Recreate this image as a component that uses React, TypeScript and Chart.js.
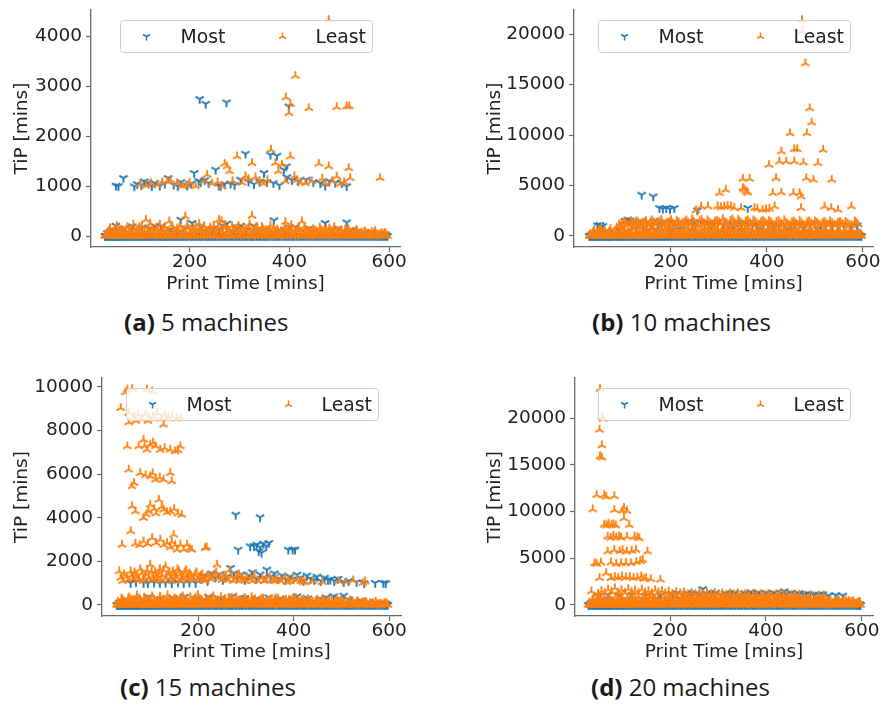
import React, { useEffect, useRef } from 'react';
import { Chart, registerables } from 'chart.js';

Chart.register(...registerables);

// ---------------- DATA ----------------
const seriesNames = ['Most', 'Least'];
const xAxisTitle = 'Print Time [mins]';
const yAxisTitle = 'TiP [mins]';
const ticksX = [200, 400, 600];
const ticksYA = [0, 1000, 2000, 3000, 4000];
const ticksYB = [0, 5000, 10000, 15000, 20000];
const ticksYC = [0, 2000, 4000, 6000, 8000, 10000];
const ticksYD = [0, 5000, 10000, 15000, 20000];
const captionTags = ['(a)', '(b)', '(c)', '(d)'];
const captionTexts = ['5 machines', '10 machines', '15 machines', '20 machines'];

// print times of jobs that waited 0 mins (TiP = 0), all panels
const zeroTimes = [30, 34, 39, 43, 48, 52, 57, 61, 66, 71, 75, 80, 86, 91, 97, 102, 108, 113, 119, 125, 131, 137, 142, 148, 154, 160, 166, 172, 178, 184, 190, 196, 203, 209, 215, 222, 228, 235, 241, 248, 254, 261, 268, 274, 281, 288, 295, 302, 309, 316, 323, 330, 337, 344, 351, 358, 366, 373, 380, 388, 395, 403, 410, 418, 425, 433, 441, 449, 456, 464, 472, 480, 488, 496, 504, 512, 520, 528, 536, 544, 552, 560, 568, 576, 584, 591, 597];
// further zero-TiP jobs under the "Most" policy
const zeroTimesMost = [32, 37, 41, 46, 50, 55, 59, 64, 69, 73, 78, 83, 89, 94, 100, 105, 111, 116, 122, 128, 134, 140, 145, 151, 157, 163, 169, 175, 181, 187, 193, 200, 206, 212, 219, 225, 232, 238, 245, 251, 258, 265, 271, 278, 285, 292, 299, 306, 313, 320, 327, 334, 341, 348, 355, 362, 370, 377, 384, 392, 399, 407, 414, 422, 429, 437, 445, 453, 460, 468, 476, 484, 492, 500, 508, 516, 524, 532, 540, 548, 556, 564, 572, 580, 588, 594];

// (a) 5 machines
const mostALow = [[35,60],[44,120],[52,207],[60,90],[70,150],[78,60],[85,194],[95,110],[104,170],[112,80],[120,140],[130,200],[142,190],[150,90],[160,130],[170,60],[182,327],[190,150],[205,260],[214,110],[222,190],[232,80],[245,140],[258,120],[266,210],[275,250],[288,90],[296,170],[303,200],[315,120],[329,200],[340,90],[352,140],[369,314],[380,120],[392,80],[400,170],[412,180],[425,100],[440,150],[456,80],[472,260],[485,110],[498,150],[515,274],[522,120],[535,90],[550,60],[565,80],[580,40],[593,30]];
const mostAHigh = [[52,1008],[57,1000],[67,1162],[89,995],[95,1040],[103,1020],[109,1095],[116,1070],[124,1000],[130,1060],[140,1010],[150,1050],[157,1162],[168,1030],[176,1000],[182,1080],[195,1010],[203,1050],[209,1262],[218,1100],[222,1080],[230,1120],[238,1060],[252,1329],[258,1010],[262,1000],[270,1040],[282,1050],[290,1020],[302,1130],[312,1650],[318,1090],[329,1040],[340,1090],[349,1262],[355,1080],[362,1630],[368,1060],[375,1610],[380,1020],[389,1329],[394,1396],[395,1180],[405,1120],[418,1100],[434,1130],[448,1080],[462,1060],[472,1010],[480,1100],[492,1070],[505,1060],[515,1000],[220,2745],[232,2651],[274,2678],[399,2598]];
const leastALow = [[33,50],[38,100],[45,80],[50,150],[56,60],[62,120],[68,90],[75,180],[82,70],[88,140],[96,100],[104,200],[112,327],[118,120],[126,90],[133,170],[140,230],[147,110],[153,80],[159,294],[166,140],[173,100],[180,200],[186,120],[191,394],[198,150],[206,90],[212,180],[219,247],[226,130],[234,100],[241,170],[248,210],[255,120],[259,327],[264,300],[270,160],[278,110],[285,200],[292,140],[300,90],[307,170],[314,130],[320,230],[325,407],[331,150],[338,100],[345,180],[352,120],[360,90],[368,170],[375,130],[383,100],[392,280],[398,150],[405,110],[412,90],[419,170],[425,294],[432,120],[440,100],[448,140],[456,80],[464,120],[472,90],[480,150],[488,70],[496,110],[505,80],[512,130],[520,90],[528,60],[536,100],[545,70],[555,50],[565,80],[575,40],[585,60],[594,30]];
const leastABand = [[36,70],[47,40],[58,110],[65,50],[78,90],[91,40],[100,130],[109,60],[122,100],[137,50],[144,120],[157,70],[169,40],[177,110],[188,60],[201,90],[210,40],[224,120],[231,60],[238,90],[251,50],[262,110],[273,70],[282,40],[290,120],[303,60],[311,90],[323,50],[335,110],[342,70],[350,40],[358,120],[365,60],[372,90],[380,50],[389,110],[401,70],[409,40],[416,100],[429,60],[436,90],[444,40],[452,110],[460,60],[468,90],[476,40],[484,100],[492,60],[500,80],[508,40],[516,90],[524,50],[532,80],[540,40],[550,70],[560,40],[570,60],[580,30],[590,50]];
const leastAFill = [[31,20],[40,160],[49,30],[54,200],[63,40],[72,120],[80,20],[87,230],[93,60],[99,180],[106,30],[115,90],[121,250],[128,40],[135,110],[139,20],[150,180],[156,40],[163,210],[168,20],[175,150],[183,30],[189,90],[195,230],[203,40],[208,140],[216,20],[221,100],[229,200],[236,30],[243,120],[250,20],[257,180],[266,50],[271,220],[279,30],[287,140],[294,20],[298,200],[306,40],[313,90],[318,160],[326,20],[334,190],[340,40],[347,130],[355,20],[362,210],[370,40],[377,100],[385,20],[391,160],[397,40],[404,220],[411,20],[418,140],[423,40],[430,190],[438,20],[446,100],[453,40],[461,170],[469,20],[474,130],[482,40],[490,180],[498,20],[503,110],[511,40],[518,150],[526,20],[534,120],[543,30],[552,90],[562,20],[572,100],[582,20],[592,60]];
const leastAHigh = [[100,1040],[112,1010],[122,1060],[135,1030],[145,1080],[155,1100],[162,1120],[175,1060],[185,1000],[192,1020],[200,1070],[212,1000],[228,1100],[235,1229],[245,1050],[256,1080],[265,1000],[270,1450],[275,1396],[280,1300],[286,1100],[295,1596],[305,1070],[312,1200],[318,1150],[325,1462],[332,1180],[340,1100],[348,1050],[356,1120],[363,1730],[372,1462],[378,1300],[385,1430],[392,1100],[402,1596],[410,1200],[415,1120],[422,1080],[432,1060],[445,1100],[459,1450],[466,1150],[472,1050],[479,1396],[486,1100],[495,1195],[502,1050],[510,1080],[519,1362],[522,1162],[582,1162],[393,2778],[399,2464],[402,2644],[412,3212],[439,2564],[479,4334],[495,2584],[515,2600],[520,2600]];

// (b) 10 machines
const mostBLow = [[35,150],[45,300],[55,500],[62,200],[72,400],[80,100],[90,600],[98,250],[108,450],[118,150],[128,700],[138,300],[148,500],[158,200],[168,650],[178,350],[188,150],[198,550],[210,300],[220,700],[232,200],[244,500],[255,350],[266,150],[278,600],[290,300],[302,450],[314,200],[326,650],[338,300],[350,500],[362,150],[374,400],[386,700],[398,250],[410,550],[422,300],[434,150],[446,600],[458,350],[470,200],[482,500],[494,300],[506,650],[518,200],[530,450],[542,300],[555,150],[568,350],[580,200],[592,100]];
const mostBHigh = [[47,1054],[52,1100],[58,1000],[110,1614],[104,1500],[115,1550],[120,1400],[128,1300],[135,1450],[142,1250],[150,1350],[158,1200],[165,1500],[172,1300],[180,1150],[188,1400],[196,1250],[205,1350],[212,1150],[220,1300],[228,1200],[236,1400],[244,1100],[252,1250],[262,1350],[270,1150],[280,1300],[290,1200],[298,1400],[308,1100],[318,1250],[328,1150],[338,1300],[348,1100],[360,1200],[370,1050],[380,1150],[392,1250],[402,1100],[412,1200],[425,1050],[436,1150],[448,1250],[458,1100],[468,1200],[478,1050],[490,1150],[500,1250],[512,1100],[524,1285],[536,1150],[548,1050],[560,1100],[575,1000],[588,1050],[139,4086],[163,3920],[176,2770],[183,2700],[190,2770],[198,2650],[207,2770],[255,2540],[360,2770]];
const leastBLow = [[32,200],[38,400],[44,150],[50,600],[56,300],[62,500],[68,200],[74,700],[80,350],[86,150],[92,550],[98,800],[104,300],[110,450],[116,200],[122,650],[128,350],[134,900],[140,250],[146,500],[152,150],[158,700],[164,400],[170,250],[176,600],[182,350],[188,800],[194,200],[200,500],[207,300],[214,700],[221,150],[228,450],[235,850],[242,300],[249,600],[256,200],[263,500],[270,350],[277,750],[284,250],[291,550],[298,150],[305,450],[312,800],[319,300],[326,600],[333,200],[340,500],[347,350],[354,750],[361,250],[368,550],[375,150],[382,450],[389,700],[396,300],[403,500],[410,200],[417,650],[424,350],[431,150],[438,550],[445,300],[452,700],[459,200],[466,450],[473,300],[480,600],[487,150],[494,400],[501,250],[508,550],[515,200],[522,450],[530,300],[538,150],[546,350],[554,200],[562,400],[570,150],[578,300],[586,100],[594,200]];
const leastBBand = [[35,100],[47,250],[59,150],[71,350],[83,100],[95,250],[107,150],[119,350],[131,100],[143,250],[155,150],[167,350],[179,100],[191,250],[203,150],[211,350],[218,100],[225,250],[232,150],[239,350],[246,100],[253,250],[260,150],[267,350],[274,100],[281,250],[288,150],[295,350],[302,100],[309,250],[316,150],[323,350],[330,100],[337,250],[344,150],[351,350],[358,100],[365,250],[372,150],[379,350],[386,100],[393,250],[400,150],[407,350],[414,100],[421,250],[428,150],[435,350],[442,100],[449,250],[456,150],[463,350],[470,100],[477,250],[484,150],[491,350],[498,100],[505,250],[512,150],[519,350],[526,100],[534,250],[542,150],[550,300],[558,100],[566,250],[574,150],[582,200],[590,100],[596,150]];
const leastBFill = [[31,50],[40,600],[49,100],[54,750],[63,150],[72,450],[80,50],[87,850],[93,250],[99,650],[106,100],[115,350],[121,900],[128,150],[135,450],[139,50],[150,650],[156,150],[163,800],[168,50],[175,550],[183,100],[189,350],[195,850],[203,150],[208,500],[216,50],[221,400],[229,750],[236,100],[243,450],[250,50],[257,650],[266,200],[271,800],[279,100],[287,500],[294,50],[298,750],[306,150],[313,350],[318,600],[326,50],[334,700],[340,150],[347,450],[355,50],[362,800],[370,150],[377,400],[385,50],[391,600],[397,150],[404,800],[411,50],[418,500],[423,150],[430,700],[438,50],[446,400],[453,150],[461,650],[469,50],[474,500],[482,150],[490,700],[498,50],[503,400],[511,150],[518,550],[526,50],[534,450],[543,100],[552,350],[562,50],[572,400],[582,50],[592,250]];
const leastBMid = [[96,1050],[104,1400],[112,1100],[120,1300],[128,1500],[136,1150],[144,1350],[152,1050],[160,1550],[168,1200],[176,1450],[184,1050],[192,1300],[200,1600],[208,1100],[216,1350],[224,1250],[232,1550],[240,1100],[248,1400],[256,1050],[264,1600],[272,1150],[280,1350],[288,1100],[296,1500],[304,1200],[312,1400],[320,1050],[328,1650],[336,1150],[344,1400],[352,1100],[360,1550],[368,1150],[376,1400],[384,1050],[392,1500],[400,1150],[408,1350],[416,1050],[424,1500],[432,1100],[440,1300],[448,1050],[456,1450],[464,1100],[472,1300],[480,1050],[488,1450],[496,1100],[504,1300],[512,1050],[520,1400],[528,1100],[536,1250],[544,1050],[552,1400],[560,1100],[568,1250],[576,1050],[586,1300]];
const leastBHigh = [[92,1150],[100,1300],[108,1200],[116,1450],[124,1100],[132,1350],[140,1250],[148,1500],[156,1150],[164,1400],[172,1250],[180,1600],[188,1150],[196,1350],[204,1250],[212,1500],[220,1150],[228,1400],[236,1300],[244,1650],[252,1200],[260,1450],[268,1300],[276,1550],[284,1200],[292,1450],[300,1350],[308,1700],[316,1250],[324,1500],[332,1350],[340,1600],[348,1200],[356,1450],[364,1300],[372,1550],[380,1200],[388,1400],[396,1300],[404,1500],[412,1150],[420,1400],[428,1250],[436,1550],[444,1150],[452,1350],[460,1250],[468,1500],[476,1100],[484,1350],[492,1250],[500,1450],[508,1150],[516,1300],[524,1200],[532,1450],[540,1100],[548,1300],[556,1200],[564,1400],[572,1100],[583,1450],[590,1150],[252,2540],[263,2930],[277,2930],[297,2930],[304,2850],[311,2930],[318,3000],[325,2930],[332,2800],[346,2770],[374,2770],[380,2700],[391,2600],[398,2650],[405,2700],[416,2930],[471,2770],[520,2930],[534,2770],[548,2600],[576,2930],[301,4250],[314,4580],[350,5670],[350,4750],[357,4415],[364,5670],[353,4600],[360,4300],[404,7050],[412,4250],[419,5730],[426,7380],[430,4320],[430,8370],[440,7380],[448,10180],[455,4250],[457,8600],[457,7380],[463,8600],[468,4250],[471,3920],[473,21385],[476,7280],[474,20300],[480,17100],[482,5730],[483,10180],[489,12650],[493,11240],[497,5570],[506,7210],[517,8530],[535,5570]];

// (c) 15 machines
const mostCLow = [[35,120],[48,250],[60,100],[72,300],[85,180],[98,350],[110,150],[122,280],[135,120],[148,320],[160,200],[172,380],[185,150],[198,300],[210,200],[222,380],[235,150],[248,300],[260,220],[272,400],[285,180],[298,320],[310,150],[322,280],[335,200],[348,350],[360,150],[372,300],[385,200],[397,250],[407,397],[418,180],[430,300],[442,150],[455,280],[468,350],[484,400],[495,300],[505,428],[515,250],[528,150],[540,200],[555,120],[570,100],[585,80],[594,60]];
const mostCHigh = [[59,1009],[70,1050],[86,1009],[95,1000],[108,1030],[120,1000],[132,1020],[145,1000],[158,1040],[170,1000],[182,1030],[195,1010],[205,1200],[212,1350],[220,1100],[228,1450],[236,1250],[244,1400],[252,1150],[260,1300],[268,1697],[275,1450],[282,1250],[290,1400],[298,1150],[306,1350],[314,1500],[322,1200],[330,1400],[337,1250],[344,1620],[352,1300],[360,1450],[368,1200],[376,1350],[384,1150],[392,1300],[400,1200],[407,1391],[414,1250],[421,1100],[428,1350],[436,1200],[443,1150],[449,1300],[457,1100],[465,1250],[472,1150],[477,1162],[485,1100],[493,1200],[505,1050],[515,1100],[532,1050],[548,1000],[571,1009],[588,1009],[593,1000],[279,4144],[330,4021],[284,2538],[309,2691],[317,2700],[323,2768],[330,2650],[337,2813],[343,2700],[348,2844],[327,2462],[333,2400],[389,2538],[398,2538],[403,2538]];
const leastCLow = [[32,150],[40,300],[48,100],[56,350],[64,200],[72,450],[80,150],[88,300],[96,200],[104,400],[112,150],[120,350],[128,250],[136,450],[144,150],[152,300],[160,200],[168,400],[176,150],[184,350],[192,250],[200,450],[208,150],[216,300],[224,200],[232,400],[240,150],[248,350],[256,250],[264,300],[272,150],[280,350],[288,200],[296,300],[304,150],[312,350],[320,250],[328,200],[336,300],[344,150],[352,250],[360,200],[368,300],[376,150],[384,250],[392,200],[400,300],[410,150],[420,250],[430,200],[440,150],[450,250],[460,200],[470,150],[480,200],[490,150],[500,200],[512,100],[524,150],[536,100],[548,120],[560,80],[572,100],[584,60],[595,80]];
const leastCBand = [[36,80],[44,200],[52,60],[60,250],[68,120],[76,300],[84,80],[92,200],[100,120],[108,250],[116,60],[124,200],[132,100],[140,280],[148,80],[156,200],[164,120],[172,260],[180,60],[188,200],[196,100],[204,280],[212,80],[220,200],[228,120],[236,250],[244,60],[252,200],[260,100],[268,250],[276,80],[284,200],[292,120],[300,250],[308,60],[316,200],[324,100],[332,250],[340,80],[348,200],[356,120],[364,220],[372,60],[380,180],[388,100],[396,220],[405,80],[415,180],[425,100],[435,200],[445,60],[455,160],[465,100],[475,180],[485,60],[495,140],[506,80],[518,120],[530,60],[542,100],[554,40],[566,90],[578,50],[590,60]];
const leastCFill = [[31,30],[40,240],[49,40],[54,300],[63,60],[72,180],[80,30],[87,340],[93,90],[99,270],[106,40],[115,140],[121,370],[128,60],[135,160],[139,30],[150,270],[156,60],[163,310],[168,30],[175,220],[183,40],[189,140],[195,340],[203,60],[208,210],[216,30],[221,150],[229,300],[236,40],[243,180],[250,30],[257,270],[266,80],[271,330],[279,40],[287,210],[294,30],[298,300],[306,60],[313,140],[318,240],[326,30],[334,280],[340,60],[347,190],[355,30],[362,310],[370,60],[377,150],[385,30],[391,240],[397,60],[404,330],[411,30],[418,210],[423,60],[430,280],[438,30],[446,150],[453,60],[461,250],[469,30],[474,190],[482,60],[490,270],[498,30],[503,160],[511,60],[518,220],[526,30],[534,180],[543,40],[552,140],[562,30],[572,150],[582,30],[592,90]];
const leastCMid = [[38,1250],[45,1400],[53,1150],[61,1350],[67,1500],[73,1250],[79,1650],[85,1100],[91,1400],[97,1250],[103,1550],[108,1150],[113,1350],[118,1450],[123,1100],[128,1600],[134,1250],[140,1500],[145,1100],[150,1400],[155,1250],[160,1550],[165,1100],[170,1350],[175,1600],[180,1200],[185,1350],[191,1150],[197,1500],[203,1250],[209,1400],[215,1100],[222,1350],[230,1250],[238,1500],[250,1150],[258,1300],[266,1600],[274,1100],[282,1300],[290,1250],[298,1100],[314,1100],[338,1100],[362,1100],[386,1050],[420,1050],[460,1050],[510,1050]];
const leastCHigh = [[52,9877],[62,9900],[93,9877],[104,9800],[48,9750],[38,9036],[55,8807],[55,8380],[66,8650],[74,8700],[82,8550],[90,8750],[98,8600],[106,8650],[114,8800],[122,8550],[130,8700],[138,8600],[146,8650],[155,8550],[163,8600],[128,8272],[95,8450],[70,8450],[52,7280],[76,7280],[86,7584],[93,7125],[100,7355],[111,7280],[121,7125],[130,7200],[142,7125],[152,7049],[163,7280],[158,7100],[106,7450],[88,7300],[55,6208],[62,5443],[66,5596],[79,6055],[90,5950],[100,5902],[111,5749],[120,5850],[128,5749],[142,6055],[145,5673],[105,6050],[62,4526],[69,4297],[86,3991],[92,4150],[100,4602],[108,4400],[118,4832],[124,4500],[128,4373],[135,4250],[142,4297],[150,4400],[158,4200],[166,4144],[112,4200],[96,4300],[41,2768],[59,3379],[69,2813],[78,2750],[86,2920],[95,2800],[104,3073],[112,2850],[121,2997],[128,2750],[135,2844],[142,2650],[149,3226],[156,2538],[163,2768],[170,2538],[177,2768],[182,2600],[187,2538],[215,2615],[218,2650],[145,2900],[152,2750],[35,1544],[42,1100],[50,1300],[59,1544],[64,1200],[70,1350],[76,1150],[82,1450],[88,1250],[94,1600],[100,1850],[105,1300],[110,1500],[115,1200],[120,1650],[125,1350],[132,1773],[137,1400],[142,1250],[147,1550],[152,1300],[157,1650],[162,1400],[167,1200],[172,1500],[177,1300],[182,1450],[188,1250],[194,1400],[200,1200],[206,1350],[212,1150],[218,1300],[226,1200],[234,1400],[240,1850],[246,1250],[254,1350],[262,1150],[270,1300],[278,1200],[286,1400],[294,1150],[302,1300],[310,1200],[318,1350],[326,1100],[334,1250],[342,1150],[350,1300],[358,1100],[366,1200],[374,1100],[382,1250],[390,1100],[398,1200],[407,1162],[415,1100],[425,1050],[440,1100],[494,1100],[525,1131],[550,1085],[545,1000]];

// (d) 20 machines
const mostDLow = [[35,200],[48,450],[60,150],[72,600],[85,300],[98,500],[110,200],[122,650],[135,300],[148,550],[160,200],[172,700],[185,350],[198,500],[210,250],[222,650],[235,300],[248,500],[260,200],[272,600],[285,350],[298,500],[310,200],[322,650],[335,300],[348,500],[360,200],[372,600],[385,350],[397,500],[410,200],[422,600],[435,300],[448,500],[460,200],[472,600],[485,350],[498,500],[510,200],[522,450],[535,300],[548,200],[560,350],[572,150],[585,250],[595,100]];
const mostDHigh = [[50,1000],[70,1050],[95,1000],[120,1050],[150,1000],[180,1050],[205,1150],[215,1250],[225,1100],[235,1300],[245,1150],[255,1250],[262,1100],[268,1705],[275,1250],[285,1150],[295,1300],[305,1100],[315,1250],[325,1150],[335,1300],[345,1100],[355,1250],[362,1150],[369,1350],[376,1200],[384,1300],[392,1100],[400,1250],[408,1150],[416,1300],[424,1100],[432,1250],[438,1456],[444,1150],[452,1300],[460,1100],[468,1250],[476,1150],[484,1200],[492,1100],[500,1050],[510,1100],[518,1172],[530,1000],[545,1050],[560,1000]];
const leastDLow = [[32,250],[38,500],[44,150],[50,700],[56,350],[62,600],[68,200],[74,800],[80,400],[86,200],[92,650],[98,900],[104,350],[110,550],[116,200],[122,750],[128,400],[134,900],[140,300],[146,600],[152,200],[158,800],[164,450],[170,300],[176,700],[182,400],[188,850],[194,250],[200,600],[207,350],[214,750],[221,200],[228,550],[235,850],[242,350],[249,650],[256,250],[263,550],[270,400],[277,750],[284,300],[291,600],[298,200],[305,500],[312,800],[319,350],[326,650],[333,250],[340,550],[347,400],[354,750],[361,300],[368,600],[375,200],[382,500],[389,700],[396,350],[403,550],[410,250],[417,650],[424,400],[431,200],[438,600],[445,350],[452,700],[459,250],[466,500],[473,350],[480,600],[487,200],[494,450],[501,300],[508,550],[515,250],[522,450],[530,350],[538,200],[546,400],[554,250],[562,450],[570,200],[578,350],[586,150],[594,250]];
const leastDBand = [[35,200],[47,500],[59,300],[71,650],[83,200],[95,450],[107,300],[119,600],[131,200],[143,450],[155,300],[167,650],[179,200],[191,450],[203,300],[211,600],[218,200],[225,450],[232,300],[239,650],[246,200],[253,450],[260,300],[267,600],[274,200],[281,450],[288,300],[295,650],[302,200],[309,450],[316,300],[323,600],[330,200],[337,450],[344,300],[351,650],[358,200],[365,450],[372,300],[379,600],[386,200],[393,450],[400,300],[407,650],[414,200],[421,450],[428,300],[435,600],[442,200],[449,450],[456,300],[463,650],[470,200],[477,450],[484,300],[491,600],[498,200],[505,450],[512,300],[519,600],[526,200],[534,450],[542,300],[550,550],[558,200],[566,450],[574,300],[582,400],[590,200],[596,300]];
const leastDFill = [[31,60],[40,650],[49,120],[54,800],[63,180],[72,500],[80,60],[87,880],[93,280],[99,700],[106,120],[115,400],[121,900],[128,180],[135,500],[139,60],[150,700],[156,180],[163,850],[168,60],[175,600],[183,120],[189,400],[195,880],[203,180],[208,550],[216,60],[221,450],[229,800],[236,120],[243,500],[250,60],[257,700],[266,220],[271,850],[279,120],[287,550],[294,60],[298,800],[306,180],[313,400],[318,650],[326,60],[334,750],[340,180],[347,500],[355,60],[362,850],[370,180],[377,450],[385,60],[391,650],[397,180],[404,850],[411,60],[418,550],[423,180],[430,750],[438,60],[446,450],[453,180],[461,700],[469,60],[474,550],[482,180],[490,750],[498,60],[503,450],[511,180],[518,600],[526,60],[534,500],[543,120],[552,400],[562,60],[572,450],[582,60],[592,300]];
const leastDHigh = [[54,23124],[58,20104],[61,19900],[53,18754],[58,17085],[54,15900],[58,15770],[47,11757],[63,11750],[67,11580],[84,11650],[39,10230],[84,10158],[101,10087],[110,10087],[104,10400],[63,8600],[68,8500],[72,8700],[78,8550],[82,8650],[87,8500],[104,9270],[115,8560],[70,7320],[76,7200],[82,7400],[88,7250],[94,7350],[98,7200],[126,7320],[136,7140],[132,7250],[110,7300],[70,5720],[84,5900],[101,5900],[110,5720],[120,5800],[129,5900],[153,5720],[95,5750],[43,4475],[47,4400],[56,4545],[77,4545],[88,4400],[98,4475],[108,4500],[119,4475],[130,4600],[143,4830],[138,4700],[53,2880],[67,3410],[77,2880],[85,3000],[92,2900],[100,3050],[108,2950],[116,3000],[124,2900],[132,2950],[140,3055],[150,2880],[160,2750],[180,2700],[145,2800],[36,1456],[50,1200],[57,1500],[64,1300],[71,1650],[78,1400],[85,1800],[92,1350],[99,1600],[106,1300],[113,1700],[120,1400],[127,1550],[134,1300],[141,1650],[148,1350],[155,1500],[162,1250],[169,1600],[176,1350],[183,1500],[190,1250],[197,1450],[205,1200],[213,1400],[221,1250],[229,1350],[237,1150],[245,1300],[253,1200],[261,1350],[269,1150],[277,1300],[285,1200],[293,1300],[301,1150],[309,1250],[317,1100],[325,1250],[333,1150],[341,1250],[349,1100],[357,1200],[365,1100],[373,1200],[381,1050],[389,1150],[397,1100],[405,1200],[413,1050],[421,1150],[429,1100],[437,1150],[445,1050],[453,1100],[461,1050],[469,1100],[480,1000],[495,1050],[510,1000],[520,1050]];

// ---------------- STYLE / LAYOUT ----------------
const BLUE = '#1f77b4';
const ORANGE = '#ff7f0e';
const TEXT = '#222222';
const AXIS = '#6a6a6a';
const FONT = "'DejaVu Sans', sans-serif";
const FS = 18.5;
const CAP_FS = 24;

type PanelCfg = {
  left: number; top: number;
  yW: number; xH: number; padR: number;
  xMin: number; xMax: number; yMin: number; yMax: number;
  yTicks: number[];
  yTitlePad: number;
  most: number[][][]; least: number[][][];
  capLeft: number; capBaseline: number;
  idx: number;
};

const panels: PanelCfg[] = [
  { idx: 0, left: 0, top: 0, yW: 91, xH: 53, padR: 41, xMin: 2, xMax: 622, yMin: -220, yMax: 4530, yTicks: ticksYA, yTitlePad: 11.4, most: [mostALow, mostAHigh], least: [leastALow, leastABand, leastAFill, leastAHigh], capLeft: 124, capBaseline: 331 },
  { idx: 1, left: 441, top: 0, yW: 133, xH: 53, padR: 9, xMin: -2, xMax: 621, yMin: -1090, yMax: 22380, yTicks: ticksYB, yTitlePad: 43.4, most: [mostBLow, mostBHigh], least: [leastBLow, leastBBand, leastBFill, leastBMid, leastBHigh], capLeft: 592, capBaseline: 331 },
  { idx: 2, left: 0, top: 368, yW: 102, xH: 52, padR: 40, xMin: -1, xMax: 625, yMin: -505, yMax: 10410, yTicks: ticksYC, yTitlePad: 11.4, most: [mostCLow, mostCHigh], least: [leastCLow, leastCBand, leastCFill, leastCMid, leastCHigh], capLeft: 120, capBaseline: 696 },
  { idx: 3, left: 441, top: 368, yW: 134, xH: 52, padR: 9, xMin: 2, xMax: 623, yMin: -1180, yMax: 24280, yTicks: ticksYD, yTitlePad: 43, most: [mostDLow, mostDHigh], least: [leastDLow, leastDBand, leastDFill, leastDHigh], capLeft: 591, capBaseline: 696 },
];

function makeTri(color: string, down: boolean, r: number, lw: number): HTMLCanvasElement {
  const size = Math.ceil(2 * r + 2 * lw + 2);
  const c = document.createElement('canvas');
  c.width = size; c.height = size;
  const ctx = c.getContext('2d')!;
  const cx = size / 2, cy = size / 2;
  const s = down ? 1 : -1;
  ctx.strokeStyle = color;
  ctx.lineWidth = lw;
  ctx.beginPath();
  ctx.moveTo(cx, cy); ctx.lineTo(cx, cy + s * r);
  ctx.moveTo(cx, cy); ctx.lineTo(cx - 0.866 * r, cy - s * 0.5 * r);
  ctx.moveTo(cx, cy); ctx.lineTo(cx + 0.866 * r, cy - s * 0.5 * r);
  ctx.stroke();
  return c;
}

function toPoints(zeros: number[][], groups: number[][][]) {
  const pts: { x: number; y: number }[] = [];
  zeros.forEach((z) => z.forEach((x) => pts.push({ x, y: 0 })));
  groups.forEach((g) => g.forEach(([x, y]) => pts.push({ x, y })));
  return pts;
}

function Panel({ cfg }: { cfg: PanelCfg }) {
  const ref = useRef<HTMLCanvasElement>(null);
  useEffect(() => {
    const mostMarker = makeTri(BLUE, true, 4.8, 1.9);
    const leastMarker = makeTri(ORANGE, false, 4.8, 1.9);
    const mostLeg = makeTri(BLUE, true, 4, 1.5);
    const leastLeg = makeTri(ORANGE, false, 4, 1.5);

    const legendPlugin = {
      id: 'mplLegend',
      afterDatasetsDraw(chart: any) {
        const { ctx, chartArea } = chart;
        const w = 252, h = 32;
        const x0 = Math.round((chartArea.left + chartArea.right) / 2 - w / 2) + 0.5;
        const y0 = Math.round(chartArea.top + 10) + 0.5;
        ctx.save();
        ctx.beginPath();
        if (ctx.roundRect) ctx.roundRect(x0, y0, w, h, 3); else ctx.rect(x0, y0, w, h);
        ctx.fillStyle = 'rgba(255,255,255,0.8)';
        ctx.fill();
        ctx.strokeStyle = '#d0d0d0';
        ctx.lineWidth = 1;
        ctx.stroke();
        const my = y0 + 16;
        ctx.drawImage(mostLeg, x0 + 26 - mostLeg.width / 2, my - mostLeg.height / 2);
        ctx.drawImage(leastLeg, x0 + 162 - leastLeg.width / 2, my - leastLeg.height / 2);
        ctx.fillStyle = TEXT;
        ctx.font = `18.8px ${FONT}`;
        ctx.textBaseline = 'alphabetic';
        ctx.textAlign = 'left';
        ctx.fillText(seriesNames[0], x0 + 60, y0 + 22);
        ctx.fillText(seriesNames[1], x0 + 195, y0 + 22);
        ctx.restore();
      },
    };

    const chart = new Chart(ref.current!, {
      type: 'scatter',
      data: {
        datasets: [
          { label: seriesNames[0], data: toPoints([zeroTimes, zeroTimesMost], cfg.most), pointStyle: mostMarker as any, pointRadius: 4.8, pointHoverRadius: 4.8, order: 1 },
          { label: seriesNames[1], data: toPoints([zeroTimes], cfg.least), pointStyle: leastMarker as any, pointRadius: 4.8, pointHoverRadius: 4.8, order: 0 },
        ],
      },
      options: {
        animation: false,
        responsive: false,
        devicePixelRatio: 1,
        events: [],
        layout: { padding: { left: 0, top: 10, right: cfg.padR, bottom: 0 } },
        plugins: { legend: { display: false }, tooltip: { enabled: false } },
        scales: {
          x: {
            type: 'linear',
            min: cfg.xMin, max: cfg.xMax,
            z: 1,
            afterBuildTicks: (s: any) => { s.ticks = ticksX.map((v) => ({ value: v })); },
            afterFit: (s: any) => { s.height = cfg.xH; s.paddingLeft = 0; s.paddingRight = 0; },
            grid: { display: true, drawOnChartArea: false, drawTicks: true, tickLength: 5, tickColor: AXIS, tickWidth: 1.2 },
            border: { display: true, color: AXIS, width: 1.3 },
            ticks: { font: { family: FONT, size: FS }, color: TEXT, padding: -1, maxRotation: 0, autoSkip: false, callback: (v: any) => String(v) },
            title: { display: true, text: xAxisTitle, font: { family: FONT, size: FS }, color: TEXT, padding: { top: 0, bottom: 4.9 } },
          },
          y: {
            type: 'linear',
            min: cfg.yMin, max: cfg.yMax,
            z: 1,
            afterBuildTicks: (s: any) => { s.ticks = cfg.yTicks.map((v) => ({ value: v })); },
            afterFit: (s: any) => { s.width = cfg.yW; s.paddingTop = 0; s.paddingBottom = 0; },
            grid: { display: true, drawOnChartArea: false, drawTicks: true, tickLength: 5, tickColor: AXIS, tickWidth: 1.2 },
            border: { display: true, color: AXIS, width: 1.3 },
            ticks: { font: { family: FONT, size: FS }, color: TEXT, padding: 4, autoSkip: false, callback: (v: any) => String(v) },
            title: { display: true, text: yAxisTitle, font: { family: FONT, size: FS }, color: TEXT, padding: { top: cfg.yTitlePad, bottom: 0 } },
          },
        },
      } as any,
      plugins: [legendPlugin],
    });
    return () => chart.destroy();
  }, [cfg]);

  return (
    <>
      <canvas
        ref={ref}
        width={441}
        height={300}
        style={{ position: 'absolute', left: cfg.left, top: cfg.top, width: 441, height: 300 }}
      />
      <div
        style={{
          position: 'absolute',
          left: cfg.capLeft,
          top: cfg.capBaseline - 21.3,
          fontFamily: "'Open Sans', 'Noto Sans', sans-serif",
          fontSize: CAP_FS,
          lineHeight: `${CAP_FS}px`,
          color: '#1a1a1a',
          whiteSpace: 'nowrap',
        }}
      >
        <b>{captionTags[cfg.idx]}</b> {captionTexts[cfg.idx]}
      </div>
    </>
  );
}

export default function App() {
  return (
    <div style={{ position: 'absolute', left: 0, top: 0, width: 882, height: 705, background: '#ffffff', overflow: 'hidden' }}>
      {panels.map((p) => (
        <Panel key={p.idx} cfg={p} />
      ))}
    </div>
  );
}
